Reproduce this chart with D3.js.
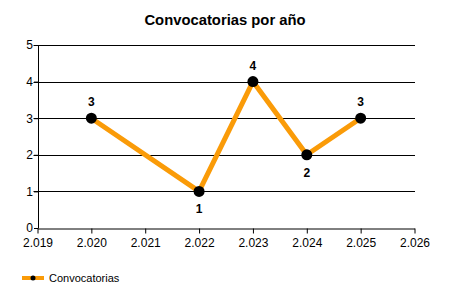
<!DOCTYPE html>
<html>
<head>
<meta charset="utf-8">
<script src="https://cdn.jsdelivr.net/npm/d3@7"></script>
<style>
  body { margin: 0; background: #fff; }
  text { font-family: "Liberation Sans", Arial, sans-serif; }
</style>
</head>
<body>
<div id="chart"></div>
<script>
var years = [2020, 2022, 2023, 2024, 2025];
var counts = [3, 1, 4, 2, 3];
var labelPos = ["above", "below", "above", "below", "above"];
var xTicks = [2019, 2020, 2021, 2022, 2023, 2024, 2025, 2026];
var yTicks = [0, 1, 2, 3, 4, 5];
var seriesName = "Convocatorias";

var margin = { top: 45, left: 37.5, right: 35.5, bottom: 72 },
    width = 450 - margin.left - margin.right,
    height = 300 - margin.top - margin.bottom;

var svg = d3.select("#chart")
    .append("svg")
    .attr("width", 450)
    .attr("height", 300);

var g = svg.append("g")
    .attr("transform", "translate(" + margin.left + "," + margin.top + ")");

var xPositionScale = d3.scaleLinear().domain([2019, 2026]).range([0, width]);
var yPositionScale = d3.scaleLinear().domain([0, 5]).range([height, 0]);

var datapoints = years.map(function (y, i) {
  return { year: y, value: counts[i], pos: labelPos[i] };
});

// gridlines
g.selectAll(".grid")
  .data(yTicks.slice(1))
  .enter().append("line")
  .attr("x1", -4)
  .attr("x2", width + 0.5)
  .attr("y1", function (d) { return Math.round(yPositionScale(d)) + 0.5; })
  .attr("y2", function (d) { return Math.round(yPositionScale(d)) + 0.5; })
  .attr("stroke", "#000")
  .attr("stroke-width", 1);

// axes
var xAxis = d3.axisBottom(xPositionScale)
  .tickValues(xTicks)
  .tickSize(5)
  .tickSizeOuter(0)
  .tickFormat(function (d) { return d3.format(".3f")(d / 1000); });

g.append("g")
  .attr("class", "axis x-axis")
  .attr("transform", "translate(0," + (Math.round(height) + 0.5) + ")")
  .call(xAxis)
  .call(function (s) {
    s.select(".domain").attr("stroke", "#000");
    s.selectAll("text").attr("font-size", "12px").attr("fill", "#000").attr("dy", "0.85em");
  });

var yAxis = d3.axisLeft(yPositionScale)
  .tickValues(yTicks)
  .tickSize(4)
  .tickSizeOuter(0)
  .tickFormat(d3.format("d"));

g.append("g")
  .attr("class", "axis y-axis")
  .attr("transform", "translate(0.5,0)")
  .call(yAxis)
  .call(function (s) {
    s.select(".domain").attr("stroke", "#000");
    s.selectAll("text").attr("font-size", "12px").attr("fill", "#000").attr("x", -5);
  });

// line
var line = d3.line()
  .x(function (d) { return xPositionScale(d.year); })
  .y(function (d) { return yPositionScale(d.value); });

g.append("path")
  .datum(datapoints)
  .attr("d", line)
  .attr("fill", "none")
  .attr("stroke", "#fa9b08")
  .attr("stroke-width", 5)
  .attr("stroke-linejoin", "round");

g.selectAll(".dot")
  .data(datapoints)
  .enter().append("circle")
  .attr("cx", function (d) { return xPositionScale(d.year); })
  .attr("cy", function (d) { return yPositionScale(d.value); })
  .attr("r", 5.5)
  .attr("fill", "#000");

g.selectAll(".val")
  .data(datapoints)
  .enter().append("text")
  .text(function (d) { return d.value; })
  .attr("x", function (d) { return xPositionScale(d.year); })
  .attr("y", function (d) { return yPositionScale(d.value) + (d.pos === "above" ? -12 : 22); })
  .attr("text-anchor", "middle")
  .attr("font-size", "12px")
  .attr("font-weight", "bold")
  .attr("fill", "#000");

// title
svg.append("text")
  .text("Convocatorias por año")
  .attr("x", 225)
  .attr("y", 25)
  .attr("text-anchor", "middle")
  .attr("font-size", "14.8px")
  .attr("font-weight", "bold")
  .attr("fill", "#000");

// legend
var legend = svg.append("g").attr("transform", "translate(22,278)");
legend.append("line")
  .attr("x1", 0).attr("x2", 22)
  .attr("y1", 0).attr("y2", 0)
  .attr("stroke", "#fa9b08")
  .attr("stroke-width", 4);
legend.append("circle")
  .attr("cx", 11).attr("cy", 0).attr("r", 2.5)
  .attr("fill", "#000");
legend.append("text")
  .text(seriesName)
  .attr("x", 27)
  .attr("y", 4)
  .attr("font-size", "11px")
  .attr("fill", "#000");
</script>
</body>
</html>
